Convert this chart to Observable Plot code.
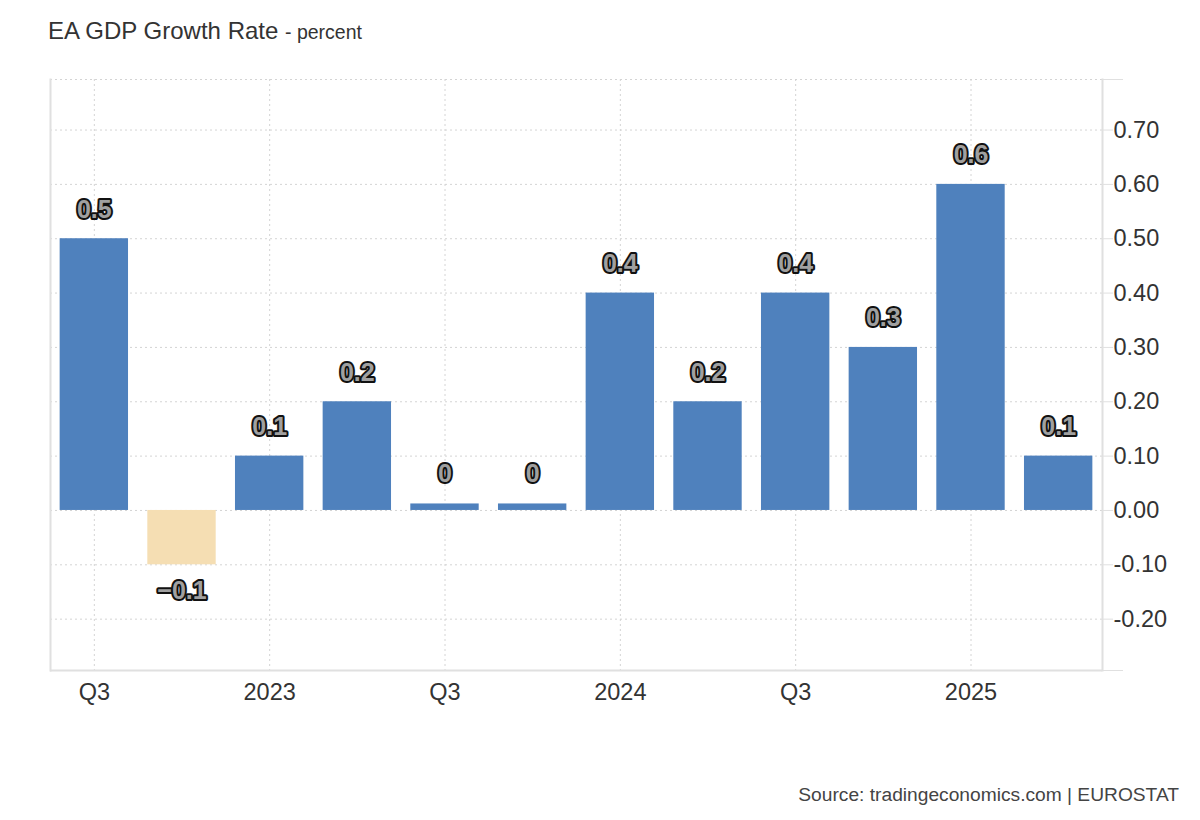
<!DOCTYPE html>
<html>
<head>
<meta charset="utf-8">
<script src="https://cdn.jsdelivr.net/npm/d3@7"></script>
<script src="https://cdn.jsdelivr.net/npm/@observablehq/plot@0.6"></script>
<style>
  html, body { margin: 0; padding: 0; background: #fff; }
  body { width: 1200px; height: 820px; position: relative; overflow: hidden;
         font-family: "Liberation Sans", Arial, sans-serif; }
  #title { position: absolute; left: 48px; top: 19px; line-height: 24px; font-size: 24px; color: #333; white-space: nowrap; }
  #title .sub { font-size: 19.5px; }
  #chart { position: absolute; left: 0; top: 60px; }
  #source { position: absolute; right: 21px; top: 785px; line-height: 19px; font-size: 19.2px; color: #444; white-space: nowrap; }
</style>
</head>
<body>
<div id="title">EA GDP Growth Rate <span class="sub">- percent</span></div>
<div id="chart"></div>
<div id="source">Source: tradingeconomics.com | EUROSTAT</div>
<script>
const periods = ["2022 Q3","2022 Q4","2023 Q1","2023 Q2","2023 Q3","2023 Q4","2024 Q1","2024 Q2","2024 Q3","2024 Q4","2025 Q1","2025 Q2"];
const growth = [0.5, -0.1, 0.1, 0.2, 0, 0, 0.4, 0.2, 0.4, 0.3, 0.6, 0.1];
const tickPeriods = ["2022 Q3","2023 Q1","2023 Q3","2024 Q1","2024 Q3","2025 Q1"];
const tickNames = ["Q3","2023","Q3","2024","Q3","2025"];
const yTicks = [-0.2, -0.1, 0, 0.1, 0.2, 0.3, 0.4, 0.5, 0.6, 0.7];
const yDomain = [-0.2945, 0.793];

const data = periods.map((p, i) => ({p, v: growth[i]}));
const fmt = v => (v < 0 ? "\u2212" : "") + String(Math.abs(v));
const blue = "#4F81BD", beige = "#F5DEB3", grid = "#d4d4d4", axisCol = "#e0e0e0";
const labelStyle = {fontSize: 25, fontWeight: "bold", fill: "#a0a0a0", stroke: "#111", strokeWidth: 4, paintOrder: "stroke", fontFamily: "'Liberation Sans', Arial, sans-serif"};

const chart = Plot.plot({
  width: 1200, height: 700,
  marginTop: 19, marginLeft: 50, marginRight: 98, marginBottom: 90,
  x: {type: "band", domain: periods, paddingInner: 0.22, paddingOuter: 0.11, round: false, axis: null},
  y: {domain: yDomain, axis: null},
  style: {fontFamily: "'Liberation Sans', Arial, sans-serif", fontSize: "23.5px", color: "#333", background: "white"},
  marks: [
    Plot.gridY(yTicks.concat([yDomain[1]]), {stroke: grid, strokeOpacity: 1, strokeDasharray: "2,3"}),
    Plot.gridX(tickPeriods, {stroke: grid, strokeOpacity: 1, strokeDasharray: "2,3"}),
    Plot.frame({anchor: "left", stroke: axisCol, strokeWidth: 2}),
    Plot.frame({anchor: "right", stroke: axisCol, strokeWidth: 2}),
    Plot.ruleY([yDomain[0]], {stroke: axisCol, strokeWidth: 2}),
    Plot.barY(data, {filter: d => d.v !== 0, x: "p", y: "v", fill: d => d.v < 0 ? beige : blue}),
    Plot.barY(data, {filter: d => d.v === 0, x: "p", y: "v", fill: blue, insetTop: -6.5}),
    Plot.text(data, {filter: d => d.v > 0, x: "p", y: "v", text: d => fmt(d.v), dy: -29, ...labelStyle}),
    Plot.text(data, {filter: d => d.v === 0, x: "p", y: "v", text: d => fmt(d.v), dy: -36, ...labelStyle}),
    Plot.text(data, {filter: d => d.v < 0, x: "p", y: "v", text: d => fmt(d.v), dy: 26, ...labelStyle}),
    Plot.axisY(yTicks, {anchor: "right", tickSize: 10, tickPadding: 1, stroke: axisCol, tickFormat: v => v.toFixed(2), fontSize: 23.5, fill: "#333", label: null}),
    Plot.axisY(yDomain, {anchor: "right", tickSize: 20, stroke: axisCol, tickFormat: () => "", label: null}),
    Plot.axisX(tickPeriods, {tickSize: 0, tickPadding: 13, tickFormat: d => tickNames[tickPeriods.indexOf(d)], fontSize: 23.5, fill: "#333", label: null})
  ]
});
document.getElementById("chart").appendChild(chart);
</script>
</body>
</html>
